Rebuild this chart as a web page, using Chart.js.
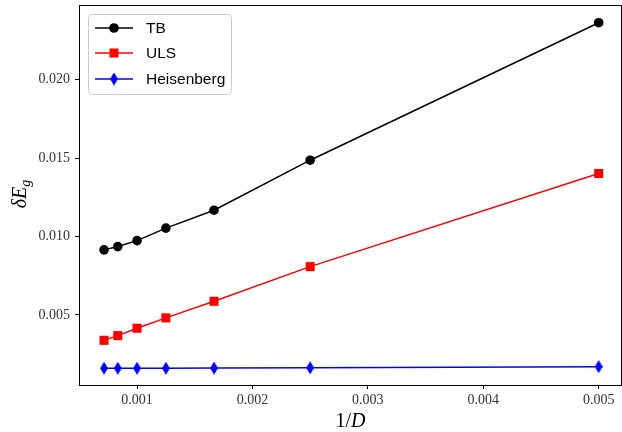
<!DOCTYPE html>
<html>
<head>
<meta charset="utf-8">
<script src="https://cdn.jsdelivr.net/npm/chart.js@4/dist/chart.umd.min.js"></script>
<style>
  html, body { margin: 0; padding: 0; background: #fff; }
  #wrap { width: 622px; height: 432px; }
</style>
</head>
<body>
<div id="wrap"><canvas id="chart" width="622" height="432"></canvas></div>
<script>
// ---------- DATA ----------
const invD = [0.000714, 0.000833, 0.001, 0.00125, 0.001667, 0.0025, 0.005];
const tbValues = [0.00915, 0.00936, 0.00974, 0.01054, 0.01168, 0.01487, 0.02364];
const ulsValues = [0.00338, 0.00368, 0.00415, 0.00481, 0.00587, 0.00808, 0.01402];
const heisenbergValues = [0.00160, 0.00160, 0.00160, 0.00160, 0.00161, 0.00163, 0.00170];
const xTicks = [0.001, 0.002, 0.003, 0.004, 0.005];
const yTicks = [0.005, 0.010, 0.015, 0.020];
const seriesNames = ["TB", "ULS", "Heisenberg"];

const tickFont = { family: "'Liberation Serif', 'DejaVu Serif', serif", size: 14 };

// thin diamond marker (matplotlib "d")
function thinDiamond(color) {
  const c = document.createElement("canvas");
  c.width = 8; c.height = 13;
  const g = c.getContext("2d");
  g.fillStyle = color;
  g.beginPath();
  g.moveTo(4, 0); g.lineTo(8, 6.5); g.lineTo(4, 13); g.lineTo(0, 6.5);
  g.closePath(); g.fill();
  return c;
}

function toPoints(ys) {
  return invD.map((x, i) => ({ x: x, y: ys[i] }));
}

// ---------- FRAME, LABELS, LEGEND ----------
const decorPlugin = {
  id: "decor",
  afterDraw(chart) {
    const ctx = chart.ctx;
    const a = chart.chartArea;
    ctx.save();

    // axes frame
    ctx.strokeStyle = "#000";
    ctx.lineWidth = 1;
    ctx.strokeRect(a.left + 0.5, a.top + 0.5, a.right - a.left - 1, a.bottom - a.top);

    // x label 1/D
    ctx.fillStyle = "#000";
    ctx.textBaseline = "alphabetic";
    ctx.font = "20px 'Liberation Serif', serif";
    const cx = (a.left + a.right) / 2;
    const w1 = ctx.measureText("1/").width;
    ctx.font = "italic 20px 'Liberation Serif', serif";
    const wD = ctx.measureText("D").width;
    let sx = cx - (w1 + wD) / 2;
    ctx.textAlign = "left";
    ctx.font = "20px 'Liberation Serif', serif";
    ctx.fillText("1/", sx, 427);
    ctx.font = "italic 20px 'Liberation Serif', serif";
    ctx.fillText("D", sx + w1, 427);

    // y label δE_g
    ctx.save();
    ctx.translate(26, 194);
    ctx.rotate(-Math.PI / 2);
    ctx.font = "italic 20px 'Liberation Serif', serif";
    const wMain = ctx.measureText("δE").width;
    ctx.font = "italic 14px 'Liberation Serif', serif";
    const wSub = ctx.measureText("g").width;
    const start = -(wMain + wSub) / 2;
    ctx.font = "italic 20px 'Liberation Serif', serif";
    ctx.fillText("δE", start, 0);
    ctx.font = "italic 14px 'Liberation Serif', serif";
    ctx.fillText("g", start + wMain, 4);
    ctx.restore();

    // legend
    const lx = 88.5, ly = 14.5, lw = 143, lh = 80, r = 4;
    ctx.beginPath();
    ctx.moveTo(lx + r, ly);
    ctx.arcTo(lx + lw, ly, lx + lw, ly + lh, r);
    ctx.arcTo(lx + lw, ly + lh, lx, ly + lh, r);
    ctx.arcTo(lx, ly + lh, lx, ly, r);
    ctx.arcTo(lx, ly, lx + lw, ly, r);
    ctx.closePath();
    ctx.fillStyle = "rgba(255,255,255,0.8)";
    ctx.fill();
    ctx.strokeStyle = "#cccccc";
    ctx.stroke();

    const rows = [28, 53, 79];
    chart.data.datasets.forEach((ds, i) => {
      const y = rows[i];
      ctx.strokeStyle = ds.borderColor;
      ctx.lineWidth = 1.5;
      ctx.beginPath();
      ctx.moveTo(95, y);
      ctx.lineTo(133, y);
      ctx.stroke();
      ctx.fillStyle = ds.backgroundColor;
      if (i === 0) {
        ctx.beginPath();
        ctx.arc(114, y, 4.8, 0, Math.PI * 2);
        ctx.fill();
      } else if (i === 1) {
        ctx.fillRect(114 - 4.5, y - 4.5, 9, 9);
      } else {
        ctx.drawImage(ds.pointStyle, 114 - 4, y - 6.5);
      }
      ctx.fillStyle = "#000";
      ctx.font = "15.5px 'Liberation Sans', sans-serif";
      ctx.textAlign = "left";
      ctx.textBaseline = "middle";
      ctx.fillText(seriesNames[i], 146, y + 1);
    });

    ctx.restore();
  }
};

// ---------- CHART ----------
new Chart(document.getElementById("chart"), {
  type: "scatter",
  data: {
    datasets: [
      {
        label: seriesNames[0],
        data: toPoints(tbValues),
        showLine: true,
        borderColor: "#000000",
        backgroundColor: "#000000",
        borderWidth: 1.5,
        pointStyle: "circle",
        pointRadius: 4.8,
        pointBorderWidth: 0,
      },
      {
        label: seriesNames[1],
        data: toPoints(ulsValues),
        showLine: true,
        borderColor: "#ff0000",
        backgroundColor: "#ff0000",
        borderWidth: 1.5,
        pointStyle: "rect",
        pointRadius: 6.4,
        pointBorderWidth: 0,
      },
      {
        label: seriesNames[2],
        data: toPoints(heisenbergValues),
        showLine: true,
        borderColor: "#0000ff",
        backgroundColor: "#0000ff",
        borderWidth: 1.5,
        pointStyle: thinDiamond("#0000ff"),
        pointRadius: 6,
        pointBorderWidth: 0,
      },
    ],
  },
  options: {
    responsive: false,
    animation: false,
    devicePixelRatio: 1,
    layout: { autoPadding: false, padding: { top: 5, right: 0, left: 0, bottom: 0 } },
    plugins: {
      legend: { display: false },
      tooltip: { enabled: false },
    },
    scales: {
      x: {
        type: "linear",
        min: 0.000497,
        max: 0.005202,
        afterBuildTicks: (scale) => { scale.ticks = xTicks.map((v) => ({ value: v })); },
        afterFit: (scale) => {
          scale.height = 47;
          scale.paddingLeft = 0;
          scale.paddingRight = 0;
        },
        ticks: {
          color: "#333",
          font: tickFont,
          padding: 3,
          maxRotation: 0,
          callback: (v) => Number(v).toFixed(3),
        },
        grid: { drawOnChartArea: false, drawTicks: true, tickLength: 4, color: "#000" },
        border: { display: false },
      },
      y: {
        type: "linear",
        min: 0.00053,
        max: 0.02477,
        afterBuildTicks: (scale) => { scale.ticks = yTicks.map((v) => ({ value: v })); },
        afterFit: (scale) => {
          scale.width = 79;
          scale.paddingTop = 0;
          scale.paddingBottom = 0;
        },
        ticks: {
          color: "#333",
          font: tickFont,
          padding: 5,
          callback: (v) => Number(v).toFixed(3),
        },
        grid: { drawOnChartArea: false, drawTicks: true, tickLength: 4, color: "#000" },
        border: { display: false },
      },
    },
  },
  plugins: [decorPlugin],
});
</script>
</body>
</html>
